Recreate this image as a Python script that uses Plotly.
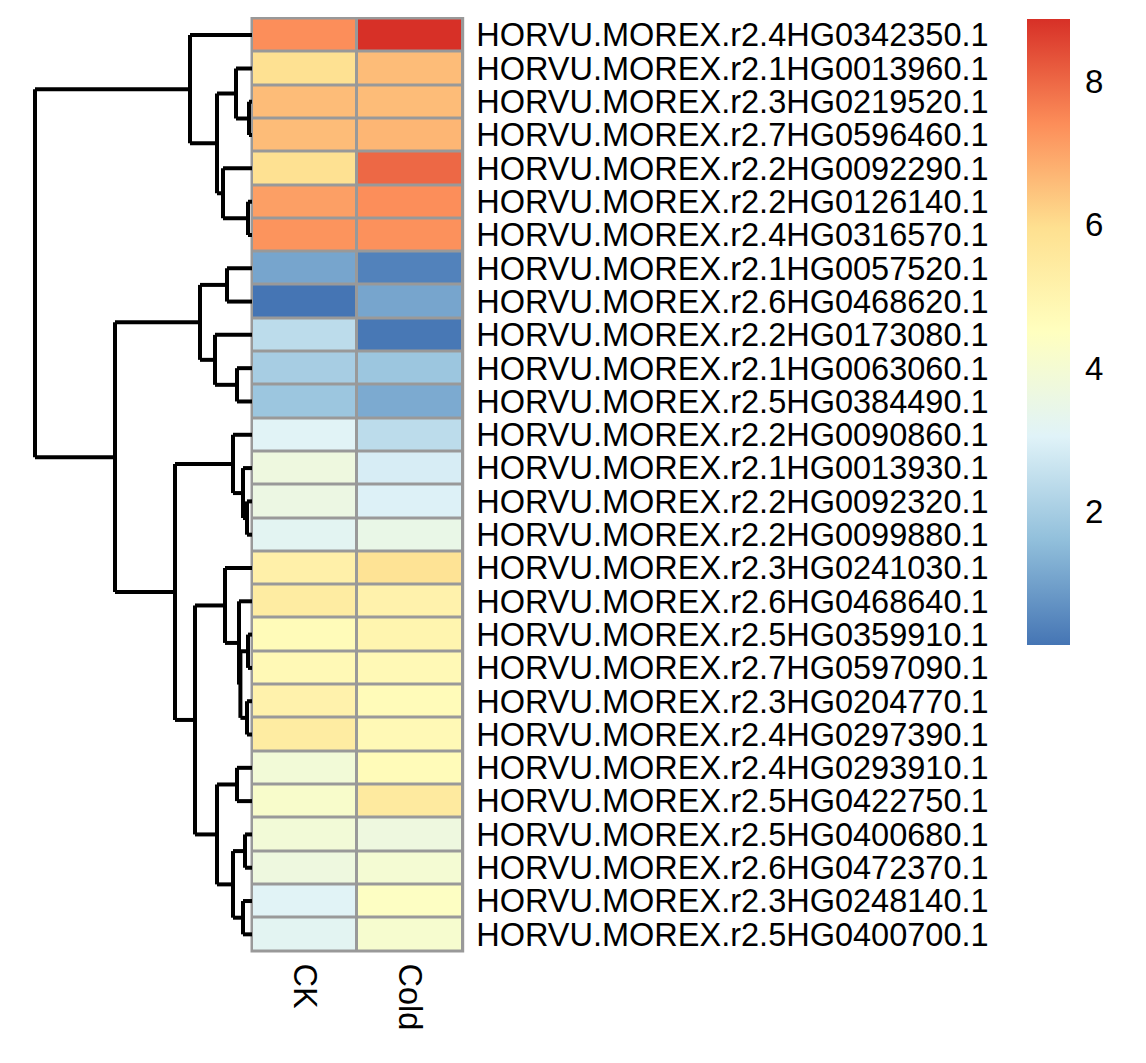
import plotly.graph_objects as go

# ---------------- data ----------------
genes = [
    "HORVU.MOREX.r2.4HG0342350.1", "HORVU.MOREX.r2.1HG0013960.1", "HORVU.MOREX.r2.3HG0219520.1",
    "HORVU.MOREX.r2.7HG0596460.1", "HORVU.MOREX.r2.2HG0092290.1", "HORVU.MOREX.r2.2HG0126140.1",
    "HORVU.MOREX.r2.4HG0316570.1", "HORVU.MOREX.r2.1HG0057520.1", "HORVU.MOREX.r2.6HG0468620.1",
    "HORVU.MOREX.r2.2HG0173080.1", "HORVU.MOREX.r2.1HG0063060.1", "HORVU.MOREX.r2.5HG0384490.1",
    "HORVU.MOREX.r2.2HG0090860.1", "HORVU.MOREX.r2.1HG0013930.1", "HORVU.MOREX.r2.2HG0092320.1",
    "HORVU.MOREX.r2.2HG0099880.1", "HORVU.MOREX.r2.3HG0241030.1", "HORVU.MOREX.r2.6HG0468640.1",
    "HORVU.MOREX.r2.5HG0359910.1", "HORVU.MOREX.r2.7HG0597090.1", "HORVU.MOREX.r2.3HG0204770.1",
    "HORVU.MOREX.r2.4HG0297390.1", "HORVU.MOREX.r2.4HG0293910.1", "HORVU.MOREX.r2.5HG0422750.1",
    "HORVU.MOREX.r2.5HG0400680.1", "HORVU.MOREX.r2.6HG0472370.1", "HORVU.MOREX.r2.3HG0248140.1",
    "HORVU.MOREX.r2.5HG0400700.1",
]
samples = ["CK", "Cold"]

ck = [7.4, 5.9, 6.6, 6.6, 5.9, 7.1, 7.3, 1.1, 0.15, 2.4, 2.0, 1.8, 3.1, 3.7,
      3.6, 3.2, 5.2, 5.4, 4.7, 4.8, 5.1, 5.4, 3.9, 4.2, 3.9, 3.7, 3.1, 3.2]
cold = [8.87, 6.6, 6.6, 6.7, 8.0, 7.4, 7.35, 0.4, 1.1, 0.2, 1.8, 1.2, 2.4, 2.9,
        3.0, 3.5, 5.8, 5.1, 5.0, 4.8, 4.7, 4.8, 4.7, 5.5, 3.7, 4.0, 4.4, 4.1]

# row dendrogram: merges (left, right, height); leaves 0..27 in display order,
# new clusters numbered 28, 29, ... in creation order
merge_left = [2, 1, 5, 4, 29, 0, 7, 10, 9, 34, 14, 13, 12, 18, 20, 41, 17, 16, 22, 24, 26, 47, 46, 45, 40, 37, 33]
merge_right = [3, 28, 6, 30, 31, 32, 8, 11, 35, 36, 15, 38, 39, 19, 21, 42, 43, 44, 23, 25, 27, 48, 49, 50, 51, 52, 53]
merge_height = [0.15, 0.80, 0.20, 1.45, 1.75, 3.10, 1.25, 0.75, 1.85, 2.60, 0.25, 0.45, 0.95,
                0.20, 0.25, 0.58, 0.65, 1.35, 0.75, 0.35, 0.45, 0.95, 1.75, 2.85, 3.85, 6.85, 10.85]

colorscale_colors = ["#4575B4", "#91BFDB", "#E0F3F8", "#FFFFBF", "#FEE090", "#FC8D59", "#D73027"]
cbar_ticks = [2, 4, 6, 8]

# ---------------- layout constants ----------------
OFF = 8                      # page body margin
W, H = 1146 - 2 * OFF, 1063 - 2 * OFF
FONT = "Liberation Sans, Arial, Helvetica, sans-serif"
hm_left, hm_right = 252 - OFF, 462.7 - OFF
hm_top, hm_bottom = 17.5 - OFF, 952.7 - OFF
n = len(genes)

# ---------------- dendrogram geometry ----------------
pos = {i: float(i) for i in range(n)}
hgt = {i: 0.0 for i in range(n)}
dx, dy = [], []
for k, (a, b, h) in enumerate(zip(merge_left, merge_right, merge_height)):
    node = n + k
    for c in (a, b):
        dx += [hgt[c], h, None]
        dy += [pos[c], pos[c], None]
    dx += [h, h, None]
    dy += [pos[a], pos[b], None]
    pos[node] = (pos[a] + pos[b]) / 2
    hgt[node] = h

fig = go.Figure()

fig.add_trace(go.Scatter(
    x=dx, y=dy, mode="lines", xaxis="x2", yaxis="y",
    line=dict(color="black", width=4), hoverinfo="skip", showlegend=False,
))

zmin, zmax = min(ck + cold), max(ck + cold)
cs = [[i / (len(colorscale_colors) - 1), c] for i, c in enumerate(colorscale_colors)]
fig.add_trace(go.Heatmap(
    z=[[a, b] for a, b in zip(ck, cold)],
    x=list(range(len(samples))), y=list(range(n)),
    colorscale=cs, zmin=zmin, zmax=zmax, xgap=3, ygap=3,
    xaxis="x", yaxis="y",
    colorbar=dict(
        thickness=43, thicknessmode="pixels",
        len=626, lenmode="pixels",
        x=(1027 - OFF) / W, xanchor="left", xpad=0,
        y=1 - (17.7 - OFF) / H, yanchor="top", ypad=0,
        outlinewidth=0, ticks="outside", ticklen=9, tickcolor="rgba(0,0,0,0)",
        tickvals=cbar_ticks,
        tickfont=dict(family=FONT, size=33, color="black"),
    ),
))

fig.add_shape(type="rect", xref="x domain", yref="y domain", x0=0, x1=1, y0=0, y1=1,
              line=dict(color="#999999", width=3), fillcolor="#999999", layer="below")

fig.update_layout(
    width=W, height=H, margin=dict(l=0, r=0, t=0, b=0),
    paper_bgcolor="white", plot_bgcolor="white", showlegend=False,
    font=dict(family=FONT, color="black"),
    xaxis=dict(
        domain=[hm_left / W, hm_right / W], range=[-0.5, 1.5],
        tickvals=list(range(len(samples))), ticktext=samples, tickangle=90,
        showgrid=False, zeroline=False, showline=False,
        ticks="outside", ticklen=5, tickcolor="rgba(0,0,0,0)",
        tickfont=dict(family=FONT, size=32.5, color="black"), anchor="y",
    ),
    yaxis=dict(
        domain=[1 - hm_bottom / H, 1 - hm_top / H], range=[n - 0.5, -0.5],
        tickvals=list(range(n)), ticktext=genes, side="right",
        showgrid=False, zeroline=False, showline=False,
        ticks="outside", ticklen=6, tickcolor="rgba(0,0,0,0)",
        tickfont=dict(family=FONT, size=32.5, color="black"), anchor="x",
    ),
    xaxis2=dict(
        domain=[0, hm_left / W], range=[hm_left / 20, 0], visible=False, anchor="y",
    ),
)

fig.write_html("out.html")
